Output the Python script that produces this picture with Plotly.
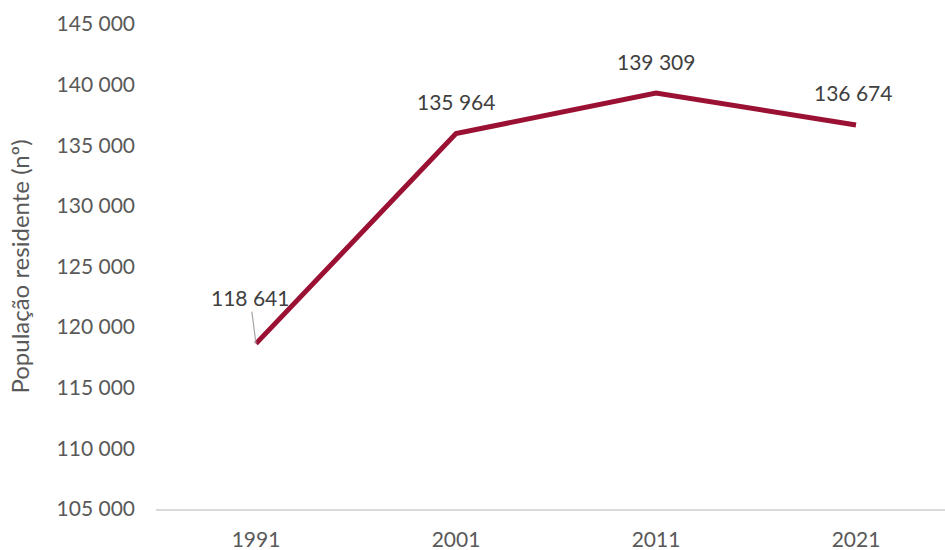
import plotly.graph_objects as go

# Resident population by census year
anos = ["1991", "2001", "2011", "2021"]
populacao = [118641, 135964, 139309, 136674]
y_ticks = [105000, 110000, 115000, 120000, 125000, 130000, 135000, 140000, 145000]

LINE_COLOR = "#9B1133"
TEXT_COLOR = "#595959"
LABEL_COLOR = "#404040"
FONT = "Lato"
SIZE = 21


def fmt(v):
    return f"{v:,}".replace(",", " ")


fig = go.Figure()
fig.add_trace(go.Scatter(
    x=anos, y=populacao, mode="lines",
    line=dict(color=LINE_COLOR, width=5),
    hoverinfo="skip", showlegend=False,
))

# Data labels above each point; first one sits off to the side with a leader line
for i, v in enumerate(populacao):
    if i == 0:
        fig.add_annotation(
            x=i, y=v, text=fmt(v), showarrow=True,
            arrowhead=0, arrowwidth=1.2, arrowcolor="#a6a6a6",
            ax=-6, ay=-46, standoff=0,
            font=dict(family=FONT, size=SIZE, color=LABEL_COLOR),
        )
    else:
        fig.add_annotation(
            x=i, y=v, text=fmt(v), showarrow=False,
            yshift=32, xshift=-3 if i == 3 else 0,
            font=dict(family=FONT, size=SIZE, color=LABEL_COLOR),
        )

fig.update_layout(
    width=945, height=550,
    margin=dict(l=156, r=0, t=24, b=41),
    paper_bgcolor="white", plot_bgcolor="white",
    separators=". ",
    font=dict(family=FONT, size=SIZE, color=TEXT_COLOR),
    xaxis=dict(
        type="category", range=[-0.5, 3.445], automargin=False,
        showgrid=False, showline=True, linecolor="#d9d9d9", linewidth=1.5,
        ticks="", ticklabelstandoff=11,
        tickfont=dict(family=FONT, size=SIZE, color=TEXT_COLOR),
        zeroline=False,
    ),
    yaxis=dict(
        range=[105000, 145000], tickvals=y_ticks, automargin=False,
        ticktext=[fmt(t) for t in y_ticks],
        showgrid=False, showline=False, zeroline=False,
        ticks="", ticklabelstandoff=20,
        tickfont=dict(family=FONT, size=SIZE, color=TEXT_COLOR),
        title=dict(text="População residente (nº)", standoff=20,
                   font=dict(family=FONT, size=24, color=TEXT_COLOR)),
    ),
)

fig.write_html("out.html")
